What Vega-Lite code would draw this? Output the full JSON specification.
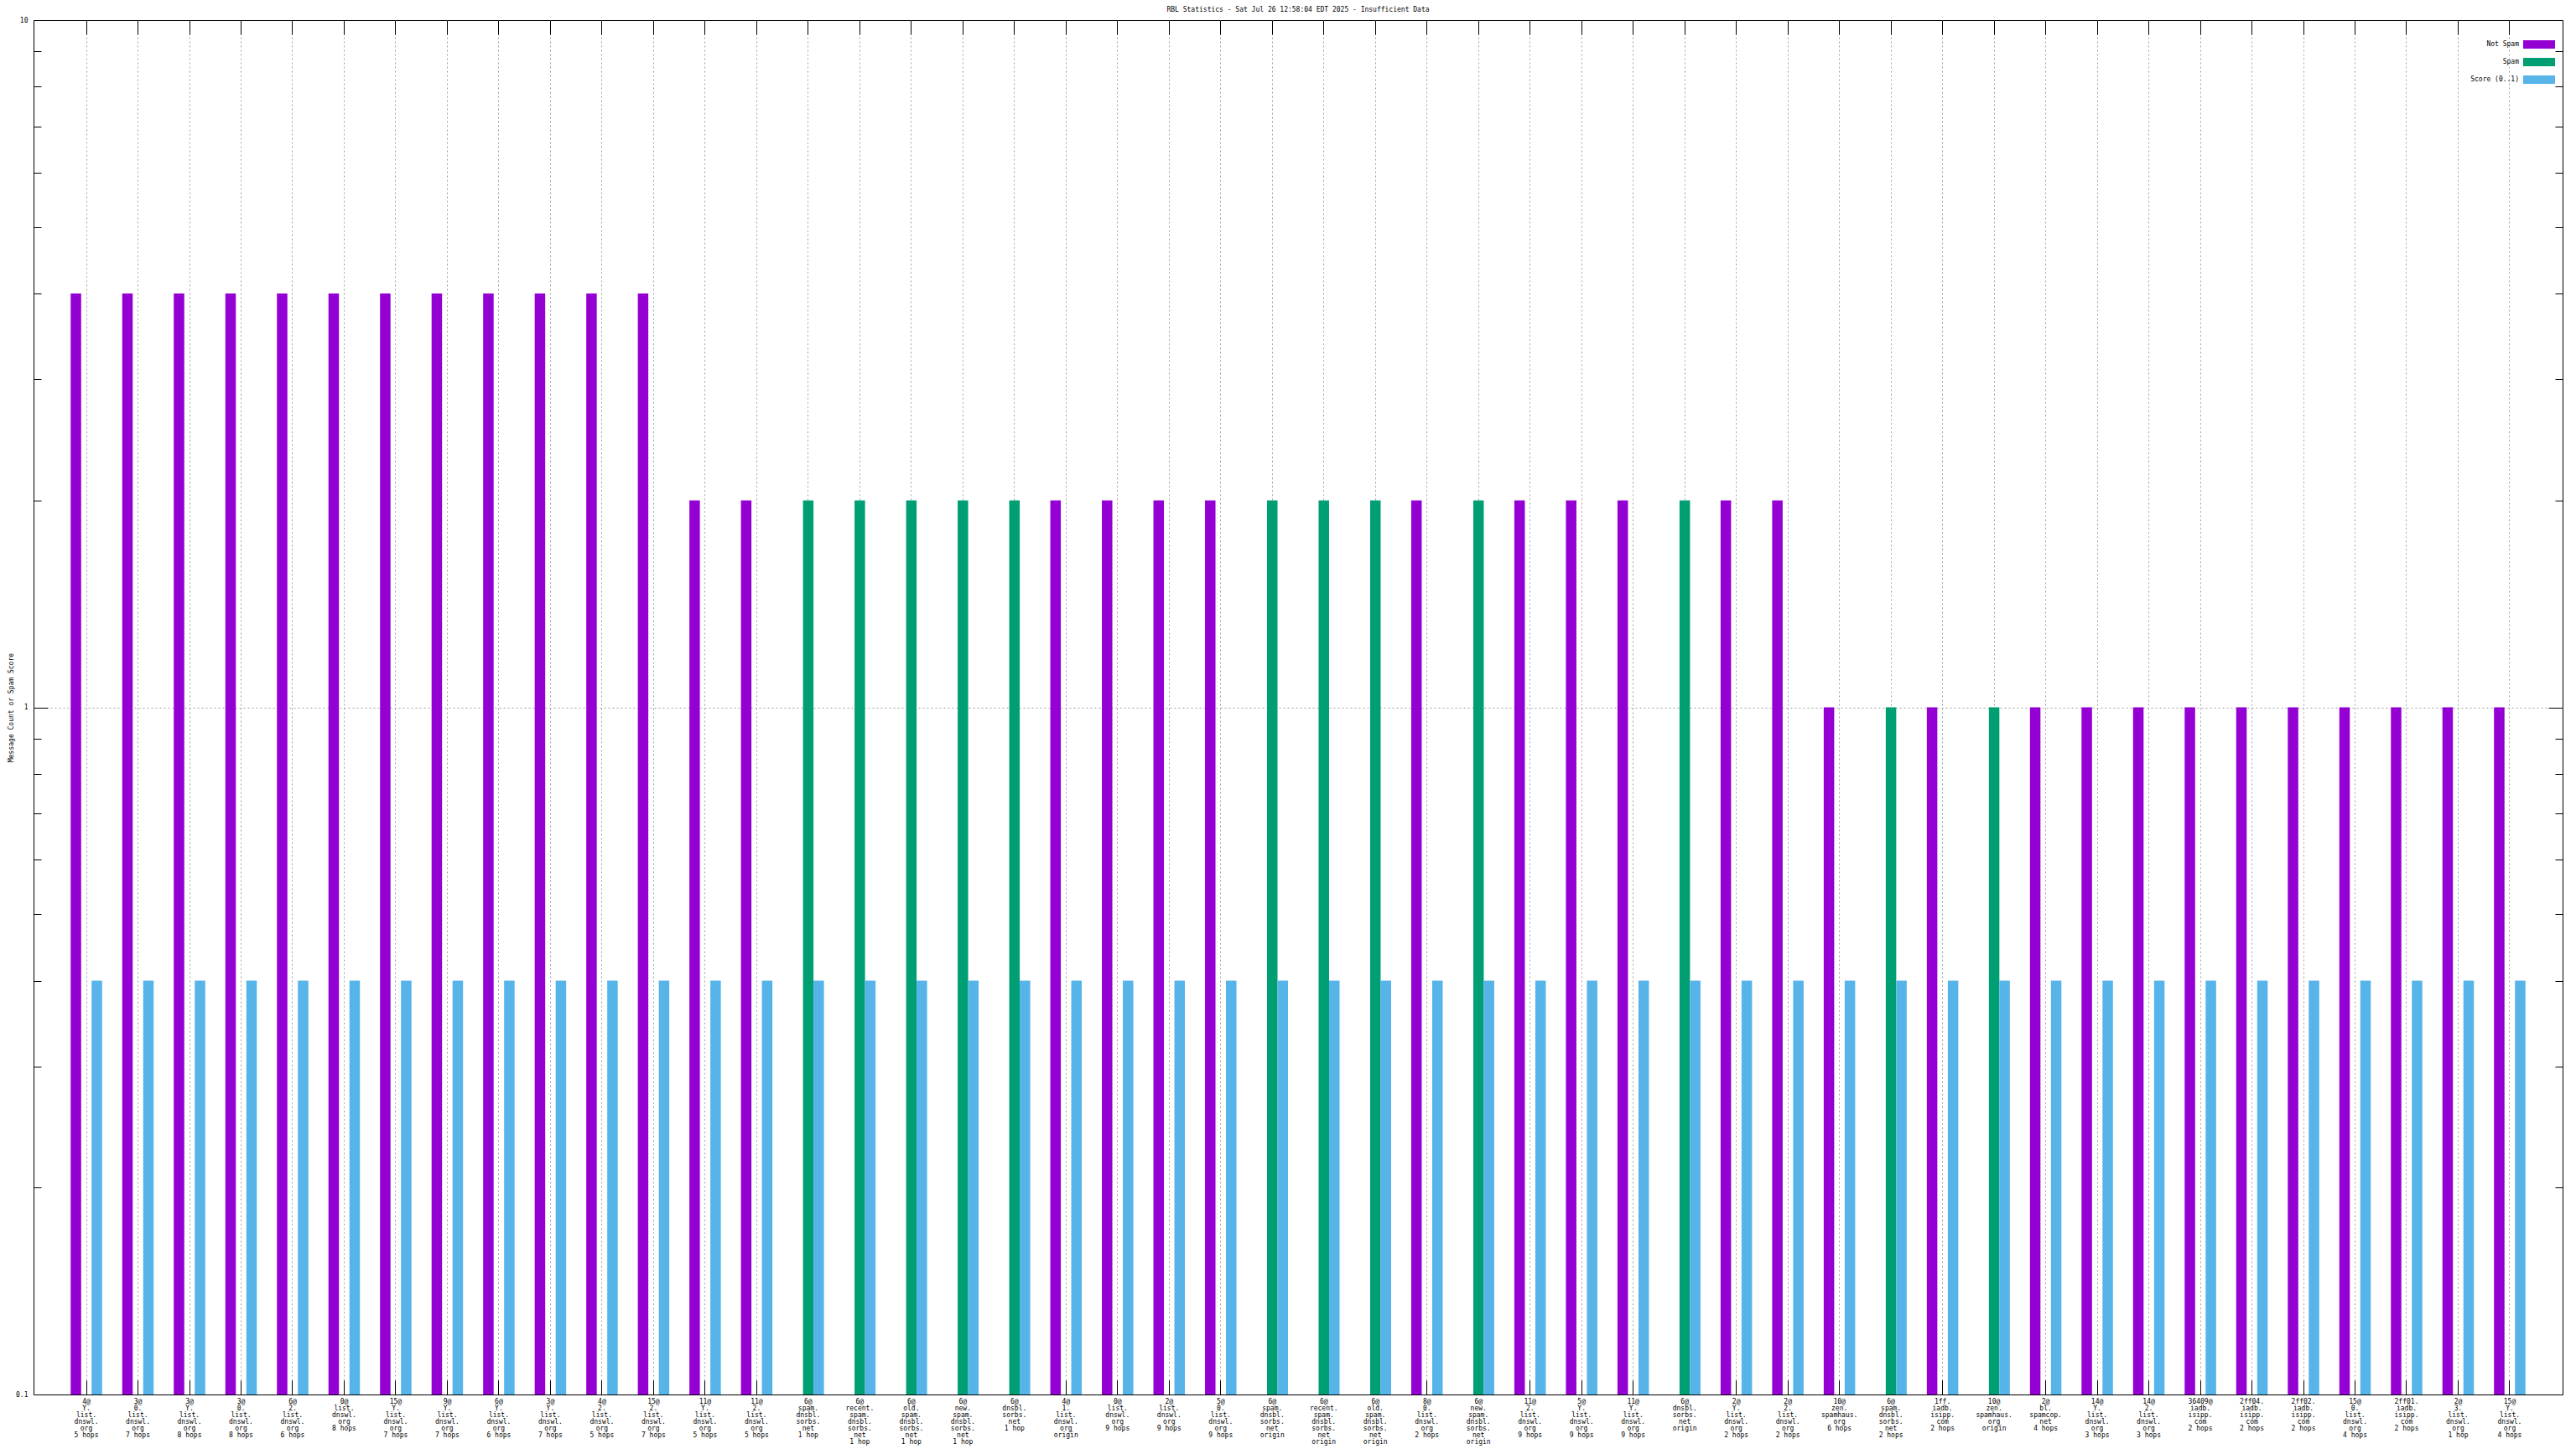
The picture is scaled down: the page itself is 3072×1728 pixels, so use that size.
{
  "$schema": "https://vega.github.io/schema/vega-lite/v6.json",
  "width": 3016,
  "height": 1639,
  "autosize": {"type": "none"},
  "padding": {"left": 40, "top": 24, "right": 16, "bottom": 65},
  "background": "white",
  "config": {
    "font": "DejaVu Sans Mono",
    "view": {"stroke": "black", "strokeWidth": 1},
    "axis": {"labelColor": "black", "tickColor": "black", "titleColor": "black", "labelFont": "DejaVu Sans Mono", "titleFont": "DejaVu Sans Mono"},
    "legend": {"labelFont": "DejaVu Sans Mono", "labelColor": "black", "titleFont": "DejaVu Sans Mono"}
  },
  "title": {"text": "RBL Statistics - Sat Jul 26 12:58:04 EDT 2025 - Insufficient Data", "fontSize": 8, "fontWeight": "normal", "font": "DejaVu Sans Mono", "offset": 4, "color": "black", "anchor": "middle"},
  "data": {"values": [
    {"cat": "4@\nY.\nlist.\ndnswl.\norg\n5 hops", "series": "Not Spam", "value": 4},
    {"cat": "4@\nY.\nlist.\ndnswl.\norg\n5 hops", "series": "Score (0..1)", "value": 0.4},
    {"cat": "3@\n0.\nlist.\ndnswl.\norg\n7 hops", "series": "Not Spam", "value": 4},
    {"cat": "3@\n0.\nlist.\ndnswl.\norg\n7 hops", "series": "Score (0..1)", "value": 0.4},
    {"cat": "3@\nY.\nlist.\ndnswl.\norg\n8 hops", "series": "Not Spam", "value": 4},
    {"cat": "3@\nY.\nlist.\ndnswl.\norg\n8 hops", "series": "Score (0..1)", "value": 0.4},
    {"cat": "3@\n0.\nlist.\ndnswl.\norg\n8 hops", "series": "Not Spam", "value": 4},
    {"cat": "3@\n0.\nlist.\ndnswl.\norg\n8 hops", "series": "Score (0..1)", "value": 0.4},
    {"cat": "6@\n2.\nlist.\ndnswl.\norg\n6 hops", "series": "Not Spam", "value": 4},
    {"cat": "6@\n2.\nlist.\ndnswl.\norg\n6 hops", "series": "Score (0..1)", "value": 0.4},
    {"cat": "0@\nlist.\ndnswl.\norg\n8 hops", "series": "Not Spam", "value": 4},
    {"cat": "0@\nlist.\ndnswl.\norg\n8 hops", "series": "Score (0..1)", "value": 0.4},
    {"cat": "15@\nY.\nlist.\ndnswl.\norg\n7 hops", "series": "Not Spam", "value": 4},
    {"cat": "15@\nY.\nlist.\ndnswl.\norg\n7 hops", "series": "Score (0..1)", "value": 0.4},
    {"cat": "9@\nY.\nlist.\ndnswl.\norg\n7 hops", "series": "Not Spam", "value": 4},
    {"cat": "9@\nY.\nlist.\ndnswl.\norg\n7 hops", "series": "Score (0..1)", "value": 0.4},
    {"cat": "6@\nY.\nlist.\ndnswl.\norg\n6 hops", "series": "Not Spam", "value": 4},
    {"cat": "6@\nY.\nlist.\ndnswl.\norg\n6 hops", "series": "Score (0..1)", "value": 0.4},
    {"cat": "3@\nY.\nlist.\ndnswl.\norg\n7 hops", "series": "Not Spam", "value": 4},
    {"cat": "3@\nY.\nlist.\ndnswl.\norg\n7 hops", "series": "Score (0..1)", "value": 0.4},
    {"cat": "4@\n2.\nlist.\ndnswl.\norg\n5 hops", "series": "Not Spam", "value": 4},
    {"cat": "4@\n2.\nlist.\ndnswl.\norg\n5 hops", "series": "Score (0..1)", "value": 0.4},
    {"cat": "15@\n2.\nlist.\ndnswl.\norg\n7 hops", "series": "Not Spam", "value": 4},
    {"cat": "15@\n2.\nlist.\ndnswl.\norg\n7 hops", "series": "Score (0..1)", "value": 0.4},
    {"cat": "11@\nY.\nlist.\ndnswl.\norg\n5 hops", "series": "Not Spam", "value": 2},
    {"cat": "11@\nY.\nlist.\ndnswl.\norg\n5 hops", "series": "Score (0..1)", "value": 0.4},
    {"cat": "11@\n2.\nlist.\ndnswl.\norg\n5 hops", "series": "Not Spam", "value": 2},
    {"cat": "11@\n2.\nlist.\ndnswl.\norg\n5 hops", "series": "Score (0..1)", "value": 0.4},
    {"cat": "6@\nspam.\ndnsbl.\nsorbs.\nnet\n1 hop", "series": "Spam", "value": 2},
    {"cat": "6@\nspam.\ndnsbl.\nsorbs.\nnet\n1 hop", "series": "Score (0..1)", "value": 0.4},
    {"cat": "6@\nrecent.\nspam.\ndnsbl.\nsorbs.\nnet\n1 hop", "series": "Spam", "value": 2},
    {"cat": "6@\nrecent.\nspam.\ndnsbl.\nsorbs.\nnet\n1 hop", "series": "Score (0..1)", "value": 0.4},
    {"cat": "6@\nold.\nspam.\ndnsbl.\nsorbs.\nnet\n1 hop", "series": "Spam", "value": 2},
    {"cat": "6@\nold.\nspam.\ndnsbl.\nsorbs.\nnet\n1 hop", "series": "Score (0..1)", "value": 0.4},
    {"cat": "6@\nnew.\nspam.\ndnsbl.\nsorbs.\nnet\n1 hop", "series": "Spam", "value": 2},
    {"cat": "6@\nnew.\nspam.\ndnsbl.\nsorbs.\nnet\n1 hop", "series": "Score (0..1)", "value": 0.4},
    {"cat": "6@\ndnsbl.\nsorbs.\nnet\n1 hop", "series": "Spam", "value": 2},
    {"cat": "6@\ndnsbl.\nsorbs.\nnet\n1 hop", "series": "Score (0..1)", "value": 0.4},
    {"cat": "4@\n1.\nlist.\ndnswl.\norg\norigin", "series": "Not Spam", "value": 2},
    {"cat": "4@\n1.\nlist.\ndnswl.\norg\norigin", "series": "Score (0..1)", "value": 0.4},
    {"cat": "0@\nlist.\ndnswl.\norg\n9 hops", "series": "Not Spam", "value": 2},
    {"cat": "0@\nlist.\ndnswl.\norg\n9 hops", "series": "Score (0..1)", "value": 0.4},
    {"cat": "2@\nlist.\ndnswl.\norg\n9 hops", "series": "Not Spam", "value": 2},
    {"cat": "2@\nlist.\ndnswl.\norg\n9 hops", "series": "Score (0..1)", "value": 0.4},
    {"cat": "5@\n0.\nlist.\ndnswl.\norg\n9 hops", "series": "Not Spam", "value": 2},
    {"cat": "5@\n0.\nlist.\ndnswl.\norg\n9 hops", "series": "Score (0..1)", "value": 0.4},
    {"cat": "6@\nspam.\ndnsbl.\nsorbs.\nnet\norigin", "series": "Spam", "value": 2},
    {"cat": "6@\nspam.\ndnsbl.\nsorbs.\nnet\norigin", "series": "Score (0..1)", "value": 0.4},
    {"cat": "6@\nrecent.\nspam.\ndnsbl.\nsorbs.\nnet\norigin", "series": "Spam", "value": 2},
    {"cat": "6@\nrecent.\nspam.\ndnsbl.\nsorbs.\nnet\norigin", "series": "Score (0..1)", "value": 0.4},
    {"cat": "6@\nold.\nspam.\ndnsbl.\nsorbs.\nnet\norigin", "series": "Spam", "value": 2},
    {"cat": "6@\nold.\nspam.\ndnsbl.\nsorbs.\nnet\norigin", "series": "Score (0..1)", "value": 0.4},
    {"cat": "8@\n0.\nlist.\ndnswl.\norg\n2 hops", "series": "Not Spam", "value": 2},
    {"cat": "8@\n0.\nlist.\ndnswl.\norg\n2 hops", "series": "Score (0..1)", "value": 0.4},
    {"cat": "6@\nnew.\nspam.\ndnsbl.\nsorbs.\nnet\norigin", "series": "Spam", "value": 2},
    {"cat": "6@\nnew.\nspam.\ndnsbl.\nsorbs.\nnet\norigin", "series": "Score (0..1)", "value": 0.4},
    {"cat": "11@\n2.\nlist.\ndnswl.\norg\n9 hops", "series": "Not Spam", "value": 2},
    {"cat": "11@\n2.\nlist.\ndnswl.\norg\n9 hops", "series": "Score (0..1)", "value": 0.4},
    {"cat": "5@\nY.\nlist.\ndnswl.\norg\n9 hops", "series": "Not Spam", "value": 2},
    {"cat": "5@\nY.\nlist.\ndnswl.\norg\n9 hops", "series": "Score (0..1)", "value": 0.4},
    {"cat": "11@\nY.\nlist.\ndnswl.\norg\n9 hops", "series": "Not Spam", "value": 2},
    {"cat": "11@\nY.\nlist.\ndnswl.\norg\n9 hops", "series": "Score (0..1)", "value": 0.4},
    {"cat": "6@\ndnsbl.\nsorbs.\nnet\norigin", "series": "Spam", "value": 2},
    {"cat": "6@\ndnsbl.\nsorbs.\nnet\norigin", "series": "Score (0..1)", "value": 0.4},
    {"cat": "2@\nY.\nlist.\ndnswl.\norg\n2 hops", "series": "Not Spam", "value": 2},
    {"cat": "2@\nY.\nlist.\ndnswl.\norg\n2 hops", "series": "Score (0..1)", "value": 0.4},
    {"cat": "2@\n2.\nlist.\ndnswl.\norg\n2 hops", "series": "Not Spam", "value": 2},
    {"cat": "2@\n2.\nlist.\ndnswl.\norg\n2 hops", "series": "Score (0..1)", "value": 0.4},
    {"cat": "10@\nzen.\nspamhaus.\norg\n6 hops", "series": "Not Spam", "value": 1},
    {"cat": "10@\nzen.\nspamhaus.\norg\n6 hops", "series": "Score (0..1)", "value": 0.4},
    {"cat": "6@\nspam.\ndnsbl.\nsorbs.\nnet\n2 hops", "series": "Spam", "value": 1},
    {"cat": "6@\nspam.\ndnsbl.\nsorbs.\nnet\n2 hops", "series": "Score (0..1)", "value": 0.4},
    {"cat": "1ff.\niadb.\nisipp.\ncom\n2 hops", "series": "Not Spam", "value": 1},
    {"cat": "1ff.\niadb.\nisipp.\ncom\n2 hops", "series": "Score (0..1)", "value": 0.4},
    {"cat": "10@\nzen.\nspamhaus.\norg\norigin", "series": "Spam", "value": 1},
    {"cat": "10@\nzen.\nspamhaus.\norg\norigin", "series": "Score (0..1)", "value": 0.4},
    {"cat": "2@\nbl.\nspamcop.\nnet\n4 hops", "series": "Not Spam", "value": 1},
    {"cat": "2@\nbl.\nspamcop.\nnet\n4 hops", "series": "Score (0..1)", "value": 0.4},
    {"cat": "14@\nY.\nlist.\ndnswl.\norg\n3 hops", "series": "Not Spam", "value": 1},
    {"cat": "14@\nY.\nlist.\ndnswl.\norg\n3 hops", "series": "Score (0..1)", "value": 0.4},
    {"cat": "14@\n2.\nlist.\ndnswl.\norg\n3 hops", "series": "Not Spam", "value": 1},
    {"cat": "14@\n2.\nlist.\ndnswl.\norg\n3 hops", "series": "Score (0..1)", "value": 0.4},
    {"cat": "36409@\niadb.\nisipp.\ncom\n2 hops", "series": "Not Spam", "value": 1},
    {"cat": "36409@\niadb.\nisipp.\ncom\n2 hops", "series": "Score (0..1)", "value": 0.4},
    {"cat": "2ff04.\niadb.\nisipp.\ncom\n2 hops", "series": "Not Spam", "value": 1},
    {"cat": "2ff04.\niadb.\nisipp.\ncom\n2 hops", "series": "Score (0..1)", "value": 0.4},
    {"cat": "2ff02.\niadb.\nisipp.\ncom\n2 hops", "series": "Not Spam", "value": 1},
    {"cat": "2ff02.\niadb.\nisipp.\ncom\n2 hops", "series": "Score (0..1)", "value": 0.4},
    {"cat": "15@\n0.\nlist.\ndnswl.\norg\n4 hops", "series": "Not Spam", "value": 1},
    {"cat": "15@\n0.\nlist.\ndnswl.\norg\n4 hops", "series": "Score (0..1)", "value": 0.4},
    {"cat": "2ff01.\niadb.\nisipp.\ncom\n2 hops", "series": "Not Spam", "value": 1},
    {"cat": "2ff01.\niadb.\nisipp.\ncom\n2 hops", "series": "Score (0..1)", "value": 0.4},
    {"cat": "2@\n3.\nlist.\ndnswl.\norg\n1 hop", "series": "Not Spam", "value": 1},
    {"cat": "2@\n3.\nlist.\ndnswl.\norg\n1 hop", "series": "Score (0..1)", "value": 0.4},
    {"cat": "15@\nY.\nlist.\ndnswl.\norg\n4 hops", "series": "Not Spam", "value": 1},
    {"cat": "15@\nY.\nlist.\ndnswl.\norg\n4 hops", "series": "Score (0..1)", "value": 0.4}
  ]},
  "resolve": {"axis": {"x": "independent", "y": "independent"}},
  "layer": [
    {
      "mark": {"type": "bar"},
      "encoding": {
        "x": {"field": "cat", "type": "nominal", "sort": null,
          "scale": {"type": "band", "paddingInner": 0.39, "paddingOuter": 0.72},
          "axis": {"orient": "bottom", "title": null, "labelAngle": 0, "labelExpr": "split(datum.label, '\\n')", "labelFontSize": 8, "labelLineHeight": 8, "labelPadding": 4, "labelBaseline": "top", "labelAlign": "center", "ticks": false, "domain": false, "grid": true, "gridColor": "#a0a0a0", "gridDash": [2, 3], "gridWidth": 1, "labelOverlap": false, "labelLimit": 0, "labelBound": false, "labelFlush": false}},
        "xOffset": {"field": "series", "type": "nominal", "scale": {"domain": ["Not Spam", "Spam", "Score (0..1)"], "paddingInner": 0, "paddingOuter": 0}},
        "y": {"field": "value", "type": "quantitative",
          "scale": {"type": "log", "domain": [0.1, 10], "nice": false},
          "axis": {"orient": "left", "values": [0.1, 1, 10], "title": "Message Count or Spam Score", "titleFontSize": 8, "titleFontWeight": "normal", "titlePadding": 1, "labelFontSize": 8, "labelPadding": 7, "ticks": false, "domain": false, "grid": true, "gridColor": "#a0a0a0", "gridDash": [2, 3], "gridWidth": 1, "gridOpacity": {"condition": {"test": "datum.value > 0.5 && datum.value < 5", "value": 1}, "value": 0}, "labelExpr": "datum.value < 0.5 ? '0.1' : (datum.value < 5 ? '1' : '10')", "labelFlush": false}},
        "y2": {"datum": 0.1},
        "color": {"field": "series", "type": "nominal",
          "scale": {"domain": ["Not Spam", "Spam", "Score (0..1)"], "range": ["#9400d3", "#009e73", "#56b4e9"]},
          "legend": {"orient": "top-right", "offset": 9, "title": " ", "titleFontSize": 8, "titlePadding": 7, "labelFontSize": 8, "labelAlign": "right", "labelOffset": -29, "symbolType": "M-3.8,-1H3.8V1H-3.8Z", "symbolSize": 100, "symbolStrokeWidth": 0, "symbolOpacity": 1, "rowPadding": 11, "padding": 0}}
      }
    },
    {
      "mark": {"type": "bar", "opacity": 0},
      "encoding": {
        "x": {"field": "cat", "type": "nominal", "sort": null, "scale": {"type": "band", "paddingInner": 0.39, "paddingOuter": 0.72},
          "axis": {"orient": "bottom", "title": null, "labels": false, "ticks": true, "tickSize": -17, "tickWidth": 1, "domain": false, "grid": false}},
        "y": {"field": "value", "type": "quantitative", "scale": {"type": "log", "domain": [0.1, 10], "nice": false},
          "axis": {"orient": "left", "values": [0.1, 1, 10], "title": null, "labels": false, "ticks": true, "tickSize": -17, "tickWidth": 1, "domain": false, "grid": false}},
        "y2": {"datum": 0.1}
      }
    },
    {
      "mark": {"type": "bar", "opacity": 0},
      "encoding": {
        "x": {"field": "cat", "type": "nominal", "sort": null, "scale": {"type": "band", "paddingInner": 0.39, "paddingOuter": 0.72},
          "axis": {"orient": "top", "title": null, "labels": false, "ticks": true, "tickSize": -17, "tickWidth": 1, "domain": false, "grid": false}},
        "y": {"field": "value", "type": "quantitative", "scale": {"type": "log", "domain": [0.1, 10], "nice": false},
          "axis": {"orient": "right", "values": [0.1, 1, 10], "title": null, "labels": false, "ticks": true, "tickSize": -17, "tickWidth": 1, "domain": false, "grid": false}},
        "y2": {"datum": 0.1}
      }
    },
    {
      "mark": {"type": "bar", "opacity": 0},
      "encoding": {
        "x": {"field": "cat", "type": "nominal", "sort": null, "scale": {"type": "band", "paddingInner": 0.39, "paddingOuter": 0.72}, "axis": null},
        "y": {"field": "value", "type": "quantitative", "scale": {"type": "log", "domain": [0.1, 10], "nice": false},
          "axis": {"orient": "left", "values": [0.2, 0.3, 0.4, 0.5, 0.6, 0.7, 0.8, 0.9, 2, 3, 4, 5, 6, 7, 8, 9], "title": null, "labels": false, "ticks": true, "tickSize": -9, "tickWidth": 1, "domain": false, "grid": false}},
        "y2": {"datum": 0.1}
      }
    },
    {
      "mark": {"type": "bar", "opacity": 0},
      "encoding": {
        "x": {"field": "cat", "type": "nominal", "sort": null, "scale": {"type": "band", "paddingInner": 0.39, "paddingOuter": 0.72}, "axis": null},
        "y": {"field": "value", "type": "quantitative", "scale": {"type": "log", "domain": [0.1, 10], "nice": false},
          "axis": {"orient": "right", "values": [0.2, 0.3, 0.4, 0.5, 0.6, 0.7, 0.8, 0.9, 2, 3, 4, 5, 6, 7, 8, 9], "title": null, "labels": false, "ticks": true, "tickSize": -9, "tickWidth": 1, "domain": false, "grid": false}},
        "y2": {"datum": 0.1}
      }
    }
  ]
}
